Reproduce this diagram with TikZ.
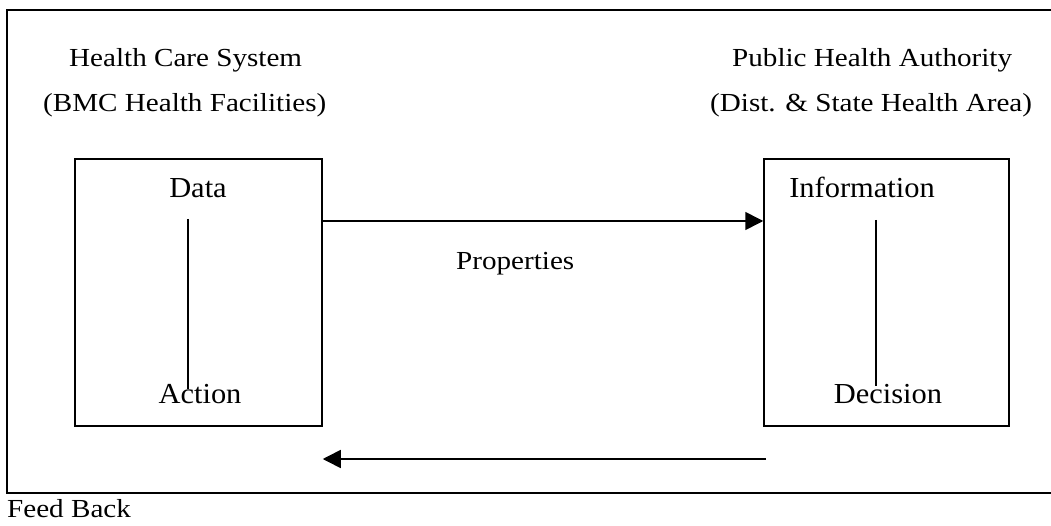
\documentclass[tikz,border=0pt]{standalone}
\usepackage{fontspec}
\setmainfont{Liberation Serif}
\newfontfamily\headfont[FakeStretch=1.12]{Liberation Serif}
\newfontfamily\boxfont[FakeStretch=1.05]{Liberation Serif}
\usetikzlibrary{arrows.meta}
\begin{document}
\begin{tikzpicture}[x=1pt,y=-1pt,
  frameline/.style={line width=1.6pt},
  panel/.style={draw,line width=1.5pt,minimum width=247pt,minimum height=267pt,inner sep=0pt},
  headtext/.style={anchor=base west,inner sep=0pt,font=\headfont\fontsize{26}{30}\selectfont},
  boxtext/.style={anchor=base,inner sep=0pt,font=\boxfont\fontsize{29}{34}\selectfont},
  flow/.style={line width=1.6pt,-{Triangle[length=18pt,width=18pt]}},
  stem/.style={line width=1.5pt}]
\useasboundingbox (0,0) rectangle (1051,526);

% outer frame, open on the right
\draw[frameline] (1051,10) -- (7,10) -- (7,493) -- (1051,493);

% headings
\node[headtext] (hcs) at (69,67) {Health Care System};
\node[headtext] (bmc) at (43,112) {(BMC Health Facilities)};
\node[headtext] (pha) at (732,67) {Public Health Authority};
\node[headtext] (dist) at (710,112) {(Dist. \& State Health Area)};

% the two panels
\node[panel] (lbox) at (198.5,292.5) {};
\node[panel,minimum width=245pt] (rbox) at (886.5,292.5) {};

\node[boxtext] (data) at (198,198) {Data};
\node[boxtext] (action) at (200,403) {Action};
\node[boxtext] (info) at (862,198) {Information};
\node[boxtext] (dec) at (888,403) {Decision};

% stems inside the panels
\coordinate (ls1) at (188,219);
\coordinate (ls2) at (188,389);
\coordinate (rs1) at (876,220);
\coordinate (rs2) at (876,386);
\draw[stem] (ls1) -- (ls2);
\draw[stem] (rs1) -- (rs2);

% data flow and feedback
\draw[flow] (lbox.east |- 0,221) -- (rbox.west |- 0,221);
\node[headtext] (prop) at (456,270) {Properties};
\coordinate (fbstart) at (766,459);
\draw[flow] (fbstart) -- (lbox.east |- fbstart);

\node[headtext] (fb) at (7,517) {Feed Back};
\end{tikzpicture}
\end{document}
